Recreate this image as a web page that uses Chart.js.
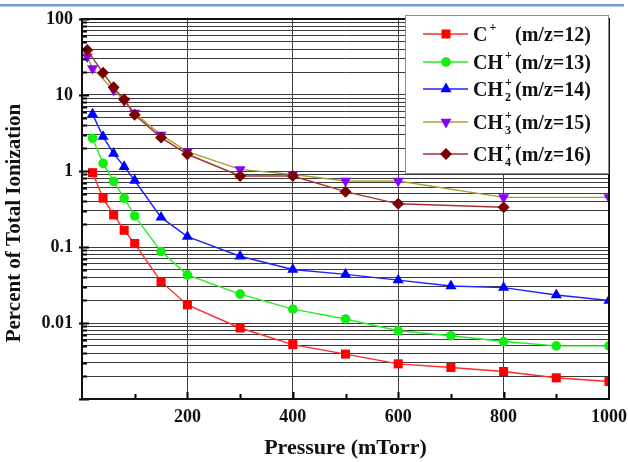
<!DOCTYPE html>
<html>
<head>
<meta charset="utf-8">
<script src="https://cdn.jsdelivr.net/npm/chart.js@4/dist/chart.umd.min.js"></script>
<style>
  html, body { margin: 0; padding: 0; background: #fff; }
  canvas { display: block; }
</style>
</head>
<body>
<canvas id="chart" width="628" height="462"></canvas>
<script>
// Pressure (mTorr) for each series
const pressureMain = [20, 40, 60, 80, 100, 150, 200, 300, 400, 500, 600, 700, 800, 900, 1000];
const pressureCH3 = [10, 20, 60, 80, 100, 150, 200, 300, 400, 500, 600, 800, 1000];
const pressureCH4 = [10, 40, 60, 80, 100, 150, 200, 300, 400, 500, 600, 800];

// Percent of total ionization
const cPlus   = [0.95, 0.44, 0.264, 0.166, 0.111, 0.035, 0.0173, 0.0086, 0.0052, 0.0039, 0.0029, 0.0026, 0.0023, 0.0019, 0.0017];
const chPlus  = [2.7, 1.26, 0.73, 0.44, 0.256, 0.087, 0.043, 0.024, 0.0152, 0.0113, 0.0079, 0.0068, 0.0057, 0.0050, 0.0050];
const ch2Plus = [5.6, 2.83, 1.7, 1.14, 0.75, 0.245, 0.137, 0.0756, 0.0506, 0.0436, 0.0367, 0.0307, 0.0292, 0.0234, 0.0198];
const ch3Plus = [32, 22.4, 11.6, 8.4, 5.8, 2.98, 1.8, 1.05, 0.9, 0.74, 0.74, 0.45, 0.45];
const ch4Plus = [39, 19.6, 12.6, 8.7, 5.5, 2.75, 1.66, 0.86, 0.86, 0.535, 0.37, 0.333];

// Legend text pieces: ion formula, subscript, mass label
const ionBase = ['C', 'CH', 'CH', 'CH', 'CH'];
const ionSub  = ['', '', '2', '3', '4'];
const ionMass = ['(m/z=12)', '(m/z=13)', '(m/z=14)', '(m/z=15)', '(m/z=16)'];

// Tick labels
const xTickLabels = ['200', '400', '600', '800', '1000'];
const yTickLabels = ['100', '10', '1', '0.1', '0.01'];
const xTickValues = [0, 100, 200, 300, 400, 500, 600, 700, 800, 900, 1000];

const SERIF = '"Liberation Serif", "Times New Roman", serif';

// log-axis tick positions: 1..9 per decade from 0.001 up to 100
const yDecades = yTickLabels.map(Number);
const yTickValues = [];
for (let e = -3; e <= 1; e++) {
  for (let k = 1; k <= 9; k++) yTickValues.push(Number((k * Math.pow(10, e)).toPrecision(6)));
}
yTickValues.push(100);

const pts = (xs, ys) => xs.map((x, i) => ({ x: x, y: ys[i] }));

const styles = [
  { line: '#ff2a2a', fill: '#ff0000', pointStyle: 'rect',     radius: 6.4, rotation: 0 },
  { line: '#22ee22', fill: '#11ee11', pointStyle: 'circle',   radius: 4.8, rotation: 0 },
  { line: '#2020ff', fill: '#0000ff', pointStyle: 'triangle', radius: 6.4, rotation: 0 },
  { line: '#a8a030', fill: '#8a00ff', pointStyle: 'triangle', radius: 6.4, rotation: 180 },
  { line: '#a83030', fill: '#7a0000', pointStyle: 'rectRot',  radius: 6.0, rotation: 0 }
];
const seriesData = [
  pts(pressureMain, cPlus),
  pts(pressureMain, chPlus),
  pts(pressureMain, ch2Plus),
  pts(pressureCH3, ch3Plus),
  pts(pressureCH4, ch4Plus)
];
const drawOrder = [1, 2, 3, 4, 0];

const datasets = seriesData.map((d, i) => ({
  label: ionBase[i] + ionSub[i] + '+ ' + ionMass[i],
  data: d,
  order: drawOrder[i],
  borderColor: styles[i].line,
  borderWidth: 1.4,
  backgroundColor: styles[i].fill,
  pointBackgroundColor: styles[i].fill,
  pointBorderWidth: 0,
  pointStyle: styles[i].pointStyle,
  pointRadius: styles[i].radius,
  pointRotation: styles[i].rotation,
  tension: 0,
  clip: 0
}));

const GRID = '#3c3c3c';

// frame, inward ticks, axis titles and the legend
const decorations = {
  id: 'decorations',
  beforeDraw(chart) {
    const ctx = chart.ctx;
    ctx.save();
    ctx.fillStyle = '#6a9fd6';
    ctx.fillRect(0, 4, 624, 2.5);
    ctx.restore();
  },
  afterDatasetsDraw(chart) {
    const ctx = chart.ctx;
    const a = chart.chartArea;
    const xs = chart.scales.x, ys = chart.scales.y;
    ctx.save();

    // inward ticks on the left axis
    ctx.strokeStyle = '#000';
    ctx.lineWidth = 2;
    ctx.beginPath();
    yTickValues.forEach(v => {
      const y = Math.round(ys.getPixelForValue(v)) + 0.5;
      const major = yDecades.some(d => Math.abs(v / d - 1) < 1e-6) || Math.abs(v / 0.001 - 1) < 1e-6;
      ctx.moveTo(a.left - (major ? 3 : 0), y);
      ctx.lineTo(a.left + (major ? 7 : 5), y);
    });
    // inward ticks on the bottom axis
    xTickValues.forEach(v => {
      if (v === 0 || v === 1000) return;
      const x = Math.round(xs.getPixelForValue(v)) + 0.5;
      const major = v % 200 === 0;
      ctx.moveTo(x, a.bottom);
      ctx.lineTo(x, a.bottom - (major ? 7 : 5));
    });
    ctx.stroke();

    // plot frame
    ctx.lineWidth = 2;
    ctx.strokeStyle = '#111';
    ctx.strokeRect(a.left, a.top, a.right - a.left, a.bottom - a.top);

    // axis titles
    ctx.fillStyle = '#111';
    ctx.textAlign = 'center';
    ctx.textBaseline = 'middle';
    ctx.font = 'bold 22px ' + SERIF;
    ctx.fillText('Pressure (mTorr)', (a.left + a.right) / 2, 448);
    ctx.save();
    ctx.translate(15, 223);
    ctx.rotate(-Math.PI / 2);
    ctx.font = 'bold 21px ' + SERIF;
    ctx.fillText('Percent of Total Ionization', 0, 0);
    ctx.restore();

    // legend box
    ctx.fillStyle = '#fff';
    ctx.fillRect(405, 15, 203, 158);
    ctx.strokeStyle = '#8c8c8c';
    ctx.lineWidth = 1;
    ctx.strokeRect(405.5, 15.5, 203, 158);

    const rowY = [34, 62, 89, 122, 154];
    rowY.forEach((cy, i) => {
      const s = styles[i];
      ctx.strokeStyle = s.line;
      ctx.lineWidth = 1.4;
      ctx.beginPath();
      ctx.moveTo(423, cy);
      ctx.lineTo(468, cy);
      ctx.stroke();
      ctx.fillStyle = s.fill;
      Chart.helpers.drawPoint(ctx, {
        pointStyle: s.pointStyle, radius: s.radius, rotation: s.rotation, borderWidth: 0
      }, 446, cy);

      ctx.fillStyle = '#111';
      ctx.textAlign = 'left';
      ctx.textBaseline = 'alphabetic';
      ctx.font = 'bold 20px ' + SERIF;
      ctx.fillText(ionBase[i], 473, cy + 7);
      const w = ctx.measureText(ionBase[i]).width;
      ctx.fillText(ionMass[i], 515, cy + 7);
      ctx.font = 'bold 12px ' + SERIF;
      ctx.fillText('+', 473 + w + 2, cy - 3);
      if (ionSub[i]) ctx.fillText(ionSub[i], 473 + w + 2, cy + 12);
    });

    ctx.restore();
  }
};

new Chart(document.getElementById('chart'), {
  type: 'line',
  data: { datasets: datasets },
  options: {
    responsive: false,
    animation: false,
    layout: { padding: { left: 0, top: 19, right: 19, bottom: 0 } },
    plugins: { legend: { display: false }, tooltip: { enabled: false } },
    scales: {
      x: {
        type: 'linear',
        min: 0,
        max: 1000,
        afterBuildTicks: s => { s.ticks = xTickValues.map(v => ({ value: v })); },
        afterFit: s => { s.height = 63; s.paddingLeft = 0; s.paddingRight = 0; },
        border: { display: false },
        grid: {
          drawTicks: false,
          lineWidth: 1,
          color: c => (c.tick && c.tick.value % 200 === 0 && c.tick.value > 0 && c.tick.value < 1000) ? GRID : 'rgba(0,0,0,0)'
        },
        ticks: {
          autoSkip: false,
          maxRotation: 0,
          padding: 8,
          color: '#111',
          font: { family: SERIF, size: 18, weight: 'bold' },
          callback: v => xTickLabels.includes(String(v)) ? String(v) : ''
        }
      },
      y: {
        type: 'logarithmic',
        min: 0.001,
        max: 100,
        afterBuildTicks: s => { s.ticks = yTickValues.map(v => ({ value: v })); },
        afterFit: s => { s.width = 82; s.paddingTop = 0; s.paddingBottom = 0; },
        border: { display: false },
        grid: { drawTicks: false, lineWidth: 1, color: GRID },
        ticks: {
          autoSkip: false,
          padding: 9,
          color: '#111',
          font: { family: SERIF, size: 18, weight: 'bold' },
          callback: v => {
            const i = yDecades.findIndex(d => Math.abs(v / d - 1) < 1e-6);
            return i >= 0 ? yTickLabels[i] : '';
          }
        }
      }
    }
  },
  plugins: [decorations]
});
</script>
</body>
</html>
